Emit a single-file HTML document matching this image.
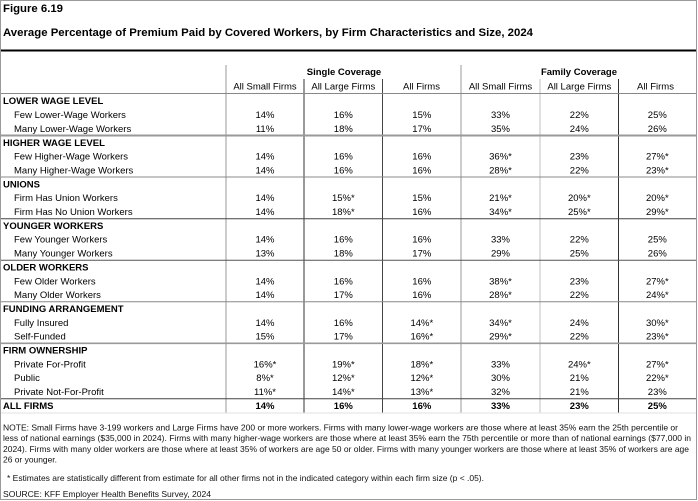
<!DOCTYPE html>
<html><head><meta charset="utf-8"><style>
html,body{margin:0;padding:0;background:#fff;}
svg{display:block;}
text{font-family:"Liberation Sans",Arial,sans-serif;fill:#000;}
.b{font-weight:bold;}
.t{font-size:9.5px;}
.v{font-size:9.5px;text-anchor:middle;}
.n{font-size:8.5px;fill:#111;}
</style></head><body>
<svg width="698" height="501" viewBox="0 0 698 501" xmlns="http://www.w3.org/2000/svg">
<rect x="0" y="0" width="698" height="501" fill="#fff"/>
<rect x="0.5" y="0.5" width="696" height="499" fill="none" stroke="#9a9a9a" stroke-width="1"/>

<text x="3" y="12" class="b" font-size="11" textLength="60" lengthAdjust="spacingAndGlyphs">Figure 6.19</text>
<text x="3" y="36" class="b" font-size="11" textLength="530" lengthAdjust="spacingAndGlyphs">Average Percentage of Premium Paid by Covered Workers, by Firm Characteristics and Size, 2024</text>

<line x1="1" y1="50.5" x2="696" y2="50.5" stroke="#000" stroke-width="2"/>

<!-- vertical lines -->
<line x1="226" y1="65" x2="226" y2="413" stroke="#999" stroke-width="1"/>
<line x1="304" y1="79" x2="304" y2="413" stroke="#333" stroke-width="1"/>
<line x1="382.5" y1="79" x2="382.5" y2="413" stroke="#444" stroke-width="1"/>
<line x1="461" y1="65" x2="461" y2="413" stroke="#999" stroke-width="1"/>
<line x1="540" y1="79" x2="540" y2="413" stroke="#ccc" stroke-width="1.2"/>
<line x1="618.5" y1="79" x2="618.5" y2="413" stroke="#333" stroke-width="1"/>

<!-- horizontal lines -->
<line x1="1" y1="93.5" x2="696" y2="93.5" stroke="#888" stroke-width="1"/>
<line x1="1" y1="135.5" x2="696" y2="135.5" stroke="#999" stroke-width="2"/>
<line x1="1" y1="177" x2="696" y2="177" stroke="#888" stroke-width="1"/>
<line x1="1" y1="218.7" x2="696" y2="218.7" stroke="#444" stroke-width="1"/>
<line x1="1" y1="260.2" x2="696" y2="260.2" stroke="#555" stroke-width="1"/>
<line x1="1" y1="301.8" x2="696" y2="301.8" stroke="#888" stroke-width="1"/>
<line x1="1" y1="343.3" x2="696" y2="343.3" stroke="#999" stroke-width="1.6"/>
<line x1="1" y1="398.7" x2="696" y2="398.7" stroke="#444" stroke-width="1"/>
<line x1="1" y1="413" x2="696" y2="413" stroke="#e2e2e2" stroke-width="1"/>

<!-- headers -->
<text x="344" y="75" class="b v">Single Coverage</text>
<text x="579" y="75" class="b v">Family Coverage</text>
<text x="265" y="89.5" class="v">All Small Firms</text>
<text x="343.3" y="89.5" class="v">All Large Firms</text>
<text x="421.5" y="89.5" class="v">All Firms</text>
<text x="500.5" y="89.5" class="v">All Small Firms</text>
<text x="579.3" y="89.5" class="v">All Large Firms</text>
<text x="655.5" y="89.5" class="v">All Firms</text>

<!-- labels -->
<g class="t">
<text x="3" y="104.2" class="b">LOWER WAGE LEVEL</text>
<text x="14" y="118.1">Few Lower-Wage Workers</text>
<text x="14" y="131.9">Many Lower-Wage Workers</text>
<text x="3" y="145.8" class="b">HIGHER WAGE LEVEL</text>
<text x="14" y="159.6">Few Higher-Wage Workers</text>
<text x="14" y="173.5">Many Higher-Wage Workers</text>
<text x="3" y="187.3" class="b">UNIONS</text>
<text x="14" y="201.2">Firm Has Union Workers</text>
<text x="14" y="215.0">Firm Has No Union Workers</text>
<text x="3" y="228.9" class="b">YOUNGER WORKERS</text>
<text x="14" y="242.7">Few Younger Workers</text>
<text x="14" y="256.6">Many Younger Workers</text>
<text x="3" y="270.4" class="b">OLDER WORKERS</text>
<text x="14" y="284.3">Few Older Workers</text>
<text x="14" y="298.1">Many Older Workers</text>
<text x="3" y="312.0" class="b">FUNDING ARRANGEMENT</text>
<text x="14" y="325.8">Fully Insured</text>
<text x="14" y="339.7">Self-Funded</text>
<text x="3" y="353.5" class="b">FIRM OWNERSHIP</text>
<text x="14" y="367.4">Private For-Profit</text>
<text x="14" y="381.2">Public</text>
<text x="14" y="395.1">Private Not-For-Profit</text>
<text x="3" y="408.9" class="b">ALL FIRMS</text>
</g>

<!-- values -->
<g class="v">
<text x="265" y="118.1">14%</text><text x="343.3" y="118.1">16%</text><text x="421.8" y="118.1">15%</text><text x="500.5" y="118.1">33%</text><text x="579.3" y="118.1">22%</text><text x="657.3" y="118.1">25%</text>
<text x="265" y="131.9">11%</text><text x="343.3" y="131.9">18%</text><text x="421.8" y="131.9">17%</text><text x="500.5" y="131.9">35%</text><text x="579.3" y="131.9">24%</text><text x="657.3" y="131.9">26%</text>

<text x="265" y="159.6">14%</text><text x="343.3" y="159.6">16%</text><text x="421.8" y="159.6">16%</text><text x="500.5" y="159.6">36%*</text><text x="579.3" y="159.6">23%</text><text x="657.3" y="159.6">27%*</text>
<text x="265" y="173.5">14%</text><text x="343.3" y="173.5">16%</text><text x="421.8" y="173.5">16%</text><text x="500.5" y="173.5">28%*</text><text x="579.3" y="173.5">22%</text><text x="657.3" y="173.5">23%*</text>

<text x="265" y="201.2">14%</text><text x="343.3" y="201.2">15%*</text><text x="421.8" y="201.2">15%</text><text x="500.5" y="201.2">21%*</text><text x="579.3" y="201.2">20%*</text><text x="657.3" y="201.2">20%*</text>
<text x="265" y="215.0">14%</text><text x="343.3" y="215.0">18%*</text><text x="421.8" y="215.0">16%</text><text x="500.5" y="215.0">34%*</text><text x="579.3" y="215.0">25%*</text><text x="657.3" y="215.0">29%*</text>

<text x="265" y="242.7">14%</text><text x="343.3" y="242.7">16%</text><text x="421.8" y="242.7">16%</text><text x="500.5" y="242.7">33%</text><text x="579.3" y="242.7">22%</text><text x="657.3" y="242.7">25%</text>
<text x="265" y="256.6">13%</text><text x="343.3" y="256.6">18%</text><text x="421.8" y="256.6">17%</text><text x="500.5" y="256.6">29%</text><text x="579.3" y="256.6">25%</text><text x="657.3" y="256.6">26%</text>

<text x="265" y="284.3">14%</text><text x="343.3" y="284.3">16%</text><text x="421.8" y="284.3">16%</text><text x="500.5" y="284.3">38%*</text><text x="579.3" y="284.3">23%</text><text x="657.3" y="284.3">27%*</text>
<text x="265" y="298.1">14%</text><text x="343.3" y="298.1">17%</text><text x="421.8" y="298.1">16%</text><text x="500.5" y="298.1">28%*</text><text x="579.3" y="298.1">22%</text><text x="657.3" y="298.1">24%*</text>

<text x="265" y="325.8">14%</text><text x="343.3" y="325.8">16%</text><text x="421.8" y="325.8">14%*</text><text x="500.5" y="325.8">34%*</text><text x="579.3" y="325.8">24%</text><text x="657.3" y="325.8">30%*</text>
<text x="265" y="339.7">15%</text><text x="343.3" y="339.7">17%</text><text x="421.8" y="339.7">16%*</text><text x="500.5" y="339.7">29%*</text><text x="579.3" y="339.7">22%</text><text x="657.3" y="339.7">23%*</text>

<text x="265" y="367.4">16%*</text><text x="343.3" y="367.4">19%*</text><text x="421.8" y="367.4">18%*</text><text x="500.5" y="367.4">33%</text><text x="579.3" y="367.4">24%*</text><text x="657.3" y="367.4">27%*</text>
<text x="265" y="381.2">8%*</text><text x="343.3" y="381.2">12%*</text><text x="421.8" y="381.2">12%*</text><text x="500.5" y="381.2">30%</text><text x="579.3" y="381.2">21%</text><text x="657.3" y="381.2">22%*</text>
<text x="265" y="395.1">11%*</text><text x="343.3" y="395.1">14%*</text><text x="421.8" y="395.1">13%*</text><text x="500.5" y="395.1">32%</text><text x="579.3" y="395.1">21%</text><text x="657.3" y="395.1">23%</text>
</g>
<g class="v b">
<text x="265" y="408.9">14%</text><text x="343.3" y="408.9">16%</text><text x="421.8" y="408.9">16%</text><text x="500.5" y="408.9">33%</text><text x="579.3" y="408.9">23%</text><text x="657.3" y="408.9">25%</text>
</g>

<!-- notes -->
<text x="3" y="430.3" class="n" textLength="675" lengthAdjust="spacingAndGlyphs">NOTE: Small Firms have 3-199 workers and Large Firms have 200 or more workers. Firms with many lower-wage workers are those where at least 35% earn the 25th percentile or</text>
<text x="3" y="441.2" class="n" textLength="688" lengthAdjust="spacingAndGlyphs">less of national earnings ($35,000 in 2024). Firms with many higher-wage workers are those where at least 35% earn the 75th percentile or more than of national earnings ($77,000 in</text>
<text x="3" y="452.1" class="n" textLength="686" lengthAdjust="spacingAndGlyphs">2024). Firms with many older workers are those where at least 35% of workers are age 50 or older. Firms with many younger workers are those where at least 35% of workers are age</text>
<text x="3" y="462.5" class="n" textLength="54" lengthAdjust="spacingAndGlyphs">26 or younger.</text>
<text x="7" y="481.2" class="n" textLength="477" lengthAdjust="spacingAndGlyphs">* Estimates are statistically different from estimate for all other firms not in the indicated category within each firm size (p &lt; .05).</text>
<text x="3" y="496.8" class="n" textLength="208" lengthAdjust="spacingAndGlyphs">SOURCE: KFF Employer Health Benefits Survey, 2024</text>
</svg>
</body></html>
